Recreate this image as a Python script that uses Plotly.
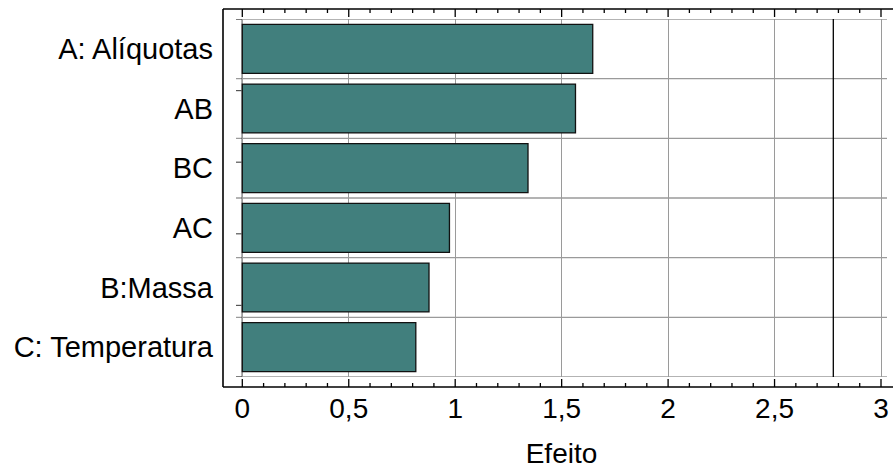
import plotly.graph_objects as go

# Data (top to bottom)
categories = ["A: Alíquotas", "AB", "BC", "AC", "B:Massa", "C: Temperatura"]
effects = [1.646, 1.565, 1.342, 0.973, 0.877, 0.815]
critical_value = 2.776
x_tick_vals = [0, 0.5, 1, 1.5, 2, 2.5, 3]
x_tick_text = ["0", "0,5", "1", "1,5", "2", "2,5", "3"]
x_title = "Efeito"

FONT = "Liberation Sans, Arial, sans-serif"
BAR_COLOR = "#417f7d"
GRID = "#9a9a9a"

# layout geometry (pixels, screenshot coordinates)
L, R, T, B = 236, 887, 19, 377
FW, FH = 893, 472
W, H = R - L, B - T
x0px, x3px = 242.3, 881.0
scale = (x3px - x0px) / 3.0
xr = [(L - x0px) / scale, 3 + (R - x3px) / scale]

fig = go.Figure()
fig.add_trace(go.Bar(
    x=effects, y=categories, orientation="h", width=0.82,
    marker=dict(color=BAR_COLOR, line=dict(color="#111111", width=1.3)),
    hoverinfo="x+y",
))

shapes = []
# outer frame (paper coords)
fl = (223 - L) / W
fr = (900 - L) / W
ft = 1 + (T - 9) / H
fb = -(387 - B) / H
line_k = dict(color="black", width=1.6)
shapes.append(dict(type="line", xref="paper", yref="paper", x0=fl, x1=fl, y0=fb, y1=ft, line=line_k))
shapes.append(dict(type="line", xref="paper", yref="paper", x0=fl, x1=fr, y0=ft, y1=ft, line=line_k))
shapes.append(dict(type="line", xref="paper", yref="paper", x0=fl, x1=fr, y0=fb, y1=fb, line=line_k))

# ticks on top and bottom frame lines
for i in range(0, 31):
    v = i / 10
    ln = 8 if i % 5 == 0 else 4
    tl = dict(color="black", width=1.3)
    shapes.append(dict(type="line", xref="x", yref="paper", ysizemode="pixel",
                       yanchor=fb, x0=v, x1=v, y0=0, y1=ln, line=tl))
    shapes.append(dict(type="line", xref="x", yref="paper", ysizemode="pixel",
                       yanchor=ft, x0=v, x1=v, y0=0, y1=-ln, line=tl))

# inner left ticks (5 equal divisions)
for k in range(6):
    yv = -0.5 + k * 6 / 5
    shapes.append(dict(type="line", xref="paper", yref="y", xsizemode="pixel",
                       xanchor=0, x0=0, x1=6, y0=yv, y1=yv,
                       line=dict(color="#555555", width=1.2)))

# horizontal grid lines at category boundaries
for k in range(7):
    yv = -0.5 + k
    shapes.append(dict(type="line", xref="paper", yref="y", x0=0, x1=1, y0=yv, y1=yv,
                       line=dict(color=GRID, width=1.3), layer="below"))

# zero line
shapes.append(dict(type="line", xref="x", yref="paper", x0=0, x1=0, y0=0, y1=1,
                   line=dict(color="#222222", width=1.3), layer="below"))
# critical value line
shapes.append(dict(type="line", xref="x", yref="paper", x0=critical_value, x1=critical_value,
                   y0=0, y1=1, line=dict(color="black", width=1.3)))

fig.update_layout(
    width=FW, height=FH,
    margin=dict(l=L, r=FW - R, t=T, b=FH - B, pad=0, autoexpand=False),
    paper_bgcolor="white", plot_bgcolor="white",
    showlegend=False,
    font=dict(family=FONT, color="black", size=28),
    shapes=shapes,
    xaxis=dict(
        range=xr, tickmode="array", tickvals=x_tick_vals, ticktext=x_tick_text,
        showgrid=True, gridcolor=GRID, gridwidth=1.3, zeroline=False,
        ticks="", showline=False, ticklabelstandoff=12, automargin=False,
        tickfont=dict(family=FONT, size=28, color="black"),
        title=dict(text=x_title, font=dict(family=FONT, size=28, color="black"), standoff=20),
    ),
    yaxis=dict(
        type="category", categoryorder="array", categoryarray=categories,
        range=[5.5, -0.5], showgrid=False, zeroline=False, ticks="", showline=False,
        ticklabelstandoff=22, automargin=False,
        tickfont=dict(family=FONT, size=29, color="black"),
    ),
)

fig.write_html(
    "out.html",
    config={"displayModeBar": False},
    post_script="document.body.style.margin='0';document.body.style.overflow='hidden';"
                "document.documentElement.style.overflow='hidden';",
)
